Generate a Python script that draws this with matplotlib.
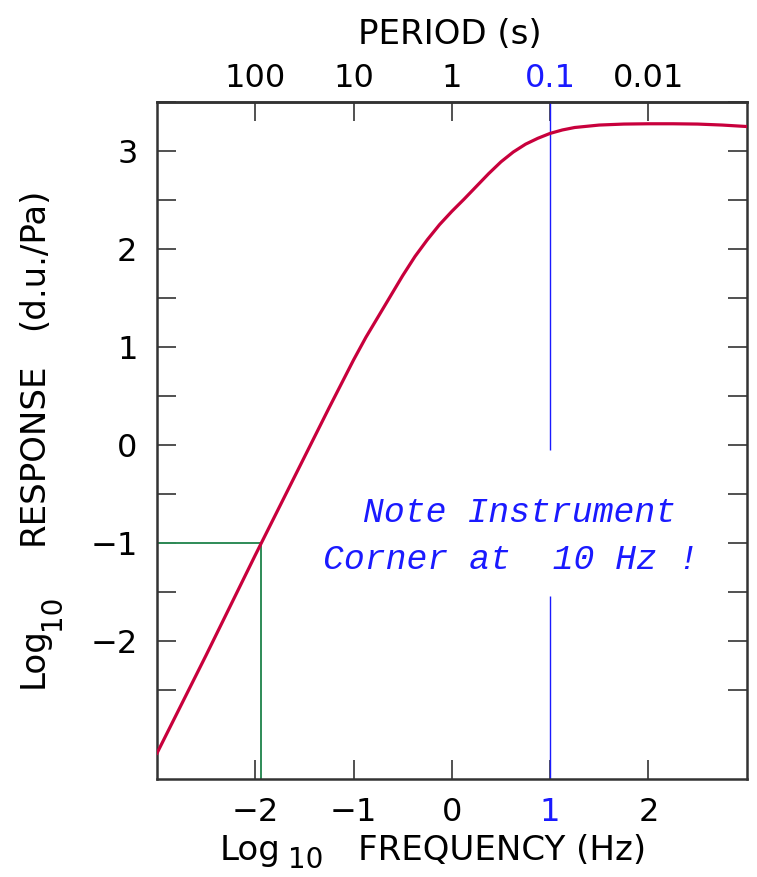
import numpy as np
import matplotlib
matplotlib.use('Agg')
import matplotlib.pyplot as plt

plt.rcParams['font.family'] = ['DejaVu Sans']

# log10 frequency (Hz) vs log10 response (d.u./Pa)
log_f = [-3.0, -2.75, -2.5, -2.25, -2.0, -1.75, -1.5, -1.25, -1.0, -0.875,
         -0.75, -0.625, -0.5, -0.375, -0.25, -0.125, 0.0, 0.125, 0.25, 0.375,
         0.5, 0.625, 0.75, 0.875, 1.0, 1.125, 1.25, 1.5, 1.75,
         2.0, 2.25, 2.5, 2.75, 3.0]
log_resp = [-3.14, -2.64, -2.14, -1.63, -1.12, -0.62, -0.12, 0.38, 0.87, 1.10,
            1.31, 1.52, 1.73, 1.925, 2.095, 2.25, 2.385, 2.51, 2.64, 2.77,
            2.89, 2.99, 3.07, 3.13, 3.18, 3.215, 3.24, 3.265, 3.275,
            3.278, 3.278, 3.275, 3.265, 3.25]

x_ticks = [-2, -1, 0, 1, 2]
x_labels = ['\u22122', '\u22121', '0', '1', '2']
period_labels = ['100', '10', '1', '0.1', '0.01']
y_major = [-2, -1, 0, 1, 2, 3]
y_labels = ['\u22122', '\u22121', '0', '1', '2', '3']
y_minor = [-2.5, -1.5, -0.5, 0.5, 1.5, 2.5, 3.5]

corner_f = 1.0          # instrument corner, log10(10 Hz)
ref_level = -1.0        # green marker level
ref_f = -1.945

red = '#c8003c'
blue = '#1a1aff'
green = '#2e8b57'
frame = '#333333'

W, H = 757, 877
fig = plt.figure(figsize=(W/100, H/100), dpi=100)
ax = fig.add_axes([157/W, 1-778.7/H, 589.7/W, 676.7/H])

ax.plot(log_f, log_resp, color=red, lw=2.3, zorder=3)

# blue corner line, broken around the note
ax.vlines(corner_f, -0.05, 3.5, color=blue, lw=1.0)
ax.vlines(corner_f, -3.4, -1.54, color=blue, lw=1.0)

# green reference
ax.hlines(ref_level, -3, ref_f, color=green, lw=1.4)
ax.vlines(ref_f, -3.4, ref_level, color=green, lw=1.4)

ax.set_xlim(-3, 3)
ax.set_ylim(-3.4, 3.5)

ax.set_xticks(x_ticks)
ax.set_xticklabels(x_labels)
ax.set_yticks(y_major)
ax.set_yticklabels(y_labels)
ax.set_yticks(y_minor, minor=True)

ax.tick_params(axis='x', which='major', direction='in', length=14, width=1.2,
               color=frame, labelsize=23, pad=13, top=False)
ax.tick_params(axis='y', which='both', direction='in', length=14, width=1.2,
               color=frame, labelsize=23, pad=14, right=True)
ax.tick_params(axis='y', which='minor', labelleft=False)

for lab in ax.get_xticklabels():
    if lab.get_text() == '1':
        lab.set_color(blue)

for sp in ax.spines.values():
    sp.set_color(frame)
    sp.set_linewidth(1.8)

# period axis on top
top = ax.secondary_xaxis('top')
top.set_xticks(x_ticks)
top.set_xticklabels(period_labels)
top.tick_params(direction='in', length=14, width=1.2, color=frame,
                labelsize=23, pad=6)
for lab in top.get_xticklabels():
    if lab.get_text() == '0.1':
        lab.set_color(blue)
top.spines['top'].set_linewidth(1.8)
top.spines['top'].set_color(frame)

fs = 24.5
fs_sub = 20
fig.text(450/W, 1-44/H, 'PERIOD (s)', ha='center', va='baseline', fontsize=fs)

# bottom label
fig.text(220/W, 1-860/H, 'Log', ha='left', va='baseline', fontsize=fs)
fig.text(288/W, 1-868/H, '10', ha='left', va='baseline', fontsize=fs_sub)
fig.text(358/W, 1-860/H, 'FREQUENCY (Hz)', ha='left', va='baseline', fontsize=fs)

# left label
kw = dict(rotation=90, rotation_mode='anchor', ha='left', va='baseline')
fig.text(43/W, 1-688/H, 'Log', fontsize=fs, **kw)
fig.text(60/W, 1-630/H, '10', fontsize=fs_sub, **kw)
fig.text(43/W, 1-545/H, 'RESPONSE', fontsize=fs, **kw)
fig.text(43/W, 1-330/H, '(d.u./Pa)', fontsize=fs, **kw)

ax.text(0.694, -0.78, 'Note Instrument', ha='center', va='baseline', color=blue,
        fontsize=25, style='italic', family='Liberation Mono')
ax.text(0.60, -1.262, 'Corner at  10 Hz !', ha='center', va='baseline', color=blue,
        fontsize=25, style='italic', family='Liberation Mono')

fig.savefig('out.png', dpi=100)
